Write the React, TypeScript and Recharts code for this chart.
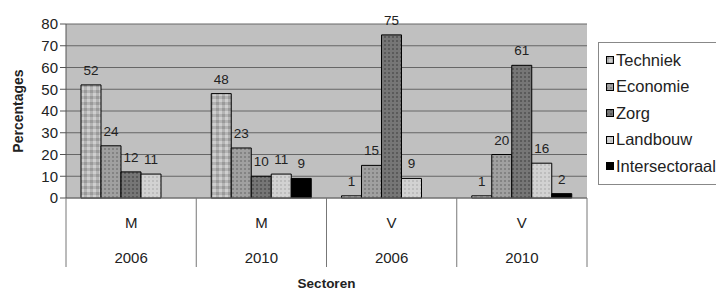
import { BarChart, Bar, XAxis, YAxis, CartesianGrid, LabelList, Label } from "recharts";

const sectors = ["M", "M", "V", "V"];
const years = ["2006", "2010", "2006", "2010"];

const techniek = [52, 48, 1, 1];
const economie = [24, 23, 15, 20];
const zorg = [12, 10, 75, 61];
const landbouw = [11, 11, 9, 16];
const intersectoraal = [null, 9, null, 2];

const yTicks = [0, 10, 20, 30, 40, 50, 60, 70, 80];

const seriesNames = ["Techniek", "Economie", "Zorg", "Landbouw", "Intersectoraal"];
const seriesKeys = ["techniek", "economie", "zorg", "landbouw", "intersectoraal"];
const seriesFills = ["url(#pTech)", "url(#pEco)", "url(#pZorg)", "url(#pLand)", "#000"];

const data = sectors.map((s, i) => ({
  cat: s + " " + years[i],
  sector: s,
  year: years[i],
  techniek: techniek[i],
  economie: economie[i],
  zorg: zorg[i],
  landbouw: landbouw[i],
  intersectoraal: intersectoraal[i],
}));

const W = 716;
const H = 293;
const M_LEFT = 6;
const Y_W = 60;
const M_RIGHT = 129;
const PLOT_W = W - M_LEFT - Y_W - M_RIGHT;
const BAND = PLOT_W / sectors.length;
const FONT = "'Liberation Sans', Arial, sans-serif";

function XTick(props: any) {
  const { x, y, payload, index } = props;
  const d = data[index];
  const left = x - BAND / 2;
  const right = x + BAND / 2;
  return (
    <g>
      <line x1={left} y1={y - 8} x2={left} y2={y + 61} stroke="#777" />
      {index === sectors.length - 1 && (
        <line x1={right} y1={y - 8} x2={right} y2={y + 61} stroke="#777" />
      )}
      <text x={x} y={y + 22} textAnchor="middle" fontSize={15} fill="#222" fontFamily={FONT}>
        {d ? d.sector : payload.value}
      </text>
      <text x={x} y={y + 57} textAnchor="middle" fontSize={15} fill="#222" fontFamily={FONT}>
        {d ? d.year : ""}
      </text>
    </g>
  );
}

function LegendBox() {
  return (
    <div
      style={{
        position: "absolute",
        left: 598,
        top: 42,
        border: "1px solid #888",
        width: 140,
        padding: "4px 0 4px 7px",
        background: "#fff",
        fontFamily: FONT,
        fontSize: 16.5,
        color: "#222",
      }}
    >
      {seriesNames.map((n, i) => (
        <div key={n} style={{ display: "flex", alignItems: "center", height: 26.5 }}>
          <svg width={8} height={8} style={{ marginRight: 2 }}>
            <rect x={0.5} y={0.5} width={7} height={7} fill={seriesFills[i]} stroke="#000" />
          </svg>
          <span style={{ whiteSpace: "nowrap" }}>{n}</span>
        </div>
      ))}
    </div>
  );
}

export default function App() {
  return (
    <div style={{ position: "absolute", left: 0, top: 0, width: W, height: H, overflow: "hidden", background: "#fff" }}>
      <BarChart
        width={W}
        height={H}
        data={data}
        margin={{ top: 24, right: M_RIGHT, left: M_LEFT, bottom: 2 }}
        barGap={0}
        barSize={20}
      >
        <defs>
          <pattern id="pTech" width="6" height="6" patternUnits="userSpaceOnUse">
            <rect width="6" height="6" fill="#b4b4b4" />
            <rect width="3" height="3" fill="#9a9a9a" />
            <rect x="3" y="3" width="3" height="3" fill="#cfcfcf" />
          </pattern>
          <pattern id="pEco" width="4" height="4" patternUnits="userSpaceOnUse">
            <rect width="4" height="4" fill="#a0a0a0" />
            <rect width="2" height="2" fill="#838383" />
          </pattern>
          <pattern id="pZorg" width="4" height="4" patternUnits="userSpaceOnUse">
            <rect width="4" height="4" fill="#767676" />
            <rect width="2" height="2" fill="#5a5a5a" />
          </pattern>
          <pattern id="pLand" width="4" height="4" patternUnits="userSpaceOnUse">
            <rect width="4" height="4" fill="#d2d2d2" />
            <rect width="2" height="2" fill="#bdbdbd" />
          </pattern>
        </defs>
        <CartesianGrid vertical={false} fill="#c0c0c0" stroke="#666" />
        <XAxis
          dataKey="cat"
          height={93}
          tick={<XTick />}
          tickLine={false}
          axisLine={{ stroke: "#777" }}
          interval={0}
        >
          <Label
            value="Sectoren"
            position="insideBottom"
            offset={3}
            style={{ fontFamily: FONT, fontSize: 13.5, fontWeight: "bold", fill: "#222" }}
          />
        </XAxis>
        <YAxis
          width={Y_W}
          domain={[0, 80]}
          ticks={yTicks}
          interval={0}
          tick={{ fontSize: 15, fill: "#222", fontFamily: FONT }}
          tickLine={{ stroke: "#555" }}
          tickSize={6}
          axisLine={{ stroke: "#555" }}
        >
          <Label
            content={(p: any) => {
              const vb = p.viewBox;
              const cx = 18;
              const cy = vb.y + vb.height / 2;
              return (
                <text
                  x={cx}
                  y={cy}
                  transform={`rotate(-90 ${cx} ${cy})`}
                  textAnchor="middle"
                  dominantBaseline="central"
                  fontFamily={FONT}
                  fontSize={14}
                  fontWeight="bold"
                  fill="#222"
                >
                  Percentages
                </text>
              );
            }}
          />
        </YAxis>
        <YAxis
          yAxisId="edge"
          orientation="right"
          width={0}
          domain={[0, 80]}
          tick={false}
          tickLine={false}
          axisLine={{ stroke: "#999" }}
        />
        {seriesKeys.map((k, i) => (
          <Bar
            key={k}
            dataKey={k}
            name={seriesNames[i]}
            fill={seriesFills[i]}
            stroke="#000"
            strokeWidth={1}
            isAnimationActive={false}
          >
            <LabelList
              dataKey={k}
              position="top"
              offset={10}
              fill="#222"
              stroke="none"
              formatter={(v: any) => (v === null || v === undefined ? "" : v)}
              style={{ fontFamily: FONT, fontSize: 13.5, fill: "#222" }}
            />
          </Bar>
        ))}
      </BarChart>
      <LegendBox />
    </div>
  );
}
